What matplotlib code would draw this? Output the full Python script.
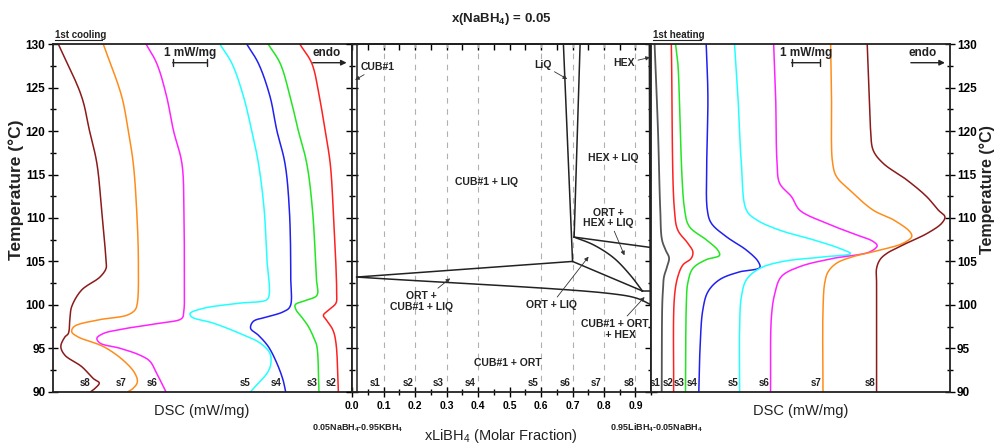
import matplotlib
matplotlib.use('Agg')
import matplotlib.pyplot as plt
from matplotlib.ticker import MultipleLocator
import matplotlib.transforms as mtransforms
import numpy as np

plt.rcParams['font.family'] = ['Liberation Sans', 'DejaVu Sans']
plt.rcParams['mathtext.fontset'] = 'custom'
plt.rcParams['mathtext.rm'] = 'Liberation Sans'
plt.rcParams['mathtext.bf'] = 'Liberation Sans:bold'
plt.rcParams['mathtext.default'] = 'regular'

# ---------------- data ----------------
samples = ['s1', 's2', 's3', 's4', 's5', 's6', 's7', 's8']
sample_x = [0.1, 0.2, 0.3, 0.4, 0.6, 0.7, 0.8, 0.9]
colors = {'s1': '#555555', 's2': '#ff2020', 's3': '#22e622', 's4': '#2020f0',
          's5': '#22ffff', 's6': '#ff22ff', 's7': '#ff8c1a', 's8': '#8b1a1a'}

# 1st cooling DSC (temperature in degC, DSC offset in mW/mg)
cool_s2_T = [130, 127.8, 124, 120.1, 116.3, 110.9, 101.3, 100.2, 99.4, 98.8, 98.3, 97.1, 95.6, 90]
cool_s2_dsc = [7.26, 7.61, 7.83, 8.00, 8.15, 8.24, 8.34, 8.32, 8.10, 7.95, 8.03, 8.23, 8.32, 8.39]
cool_s3_T = [130, 127.8, 124, 120.1, 116.3, 110.9, 103.2, 101.1, 100.55, 100, 99.4, 98.6, 97.5, 96, 95.2, 90]
cool_s3_dsc = [6.33, 6.68, 6.97, 7.21, 7.46, 7.63, 7.74, 7.76, 7.46, 7.12, 7.15, 7.31, 7.51, 7.69, 7.76, 7.82]
cool_s4_T = [130, 127.8, 124, 120.1, 116.3, 110.9, 103.2, 99.8, 99.2, 98.6, 98.1, 97.3, 96.5, 95.2, 93.3, 91.4, 90]
cool_s4_dsc = [5.70, 6.04, 6.38, 6.58, 6.82, 6.95, 6.99, 6.97, 6.77, 6.29, 5.89, 5.81, 6.04, 6.33, 6.58, 6.76, 6.84]
cool_s5_T = [130, 127.8, 124, 120.1, 116.3, 110.9, 105.2, 101.3, 100.6, 100.2, 99.6, 99.0, 98.6, 97.9, 96.7,
             95.6, 94.4, 93.1, 92.1, 91, 90]
cool_s5_dsc = [4.91, 5.26, 5.60, 5.84, 6.04, 6.21, 6.29, 6.36, 6.29, 5.50, 4.42, 4.03, 4.08, 4.71, 5.50,
               6.09, 6.38, 6.40, 6.29, 6.04, 5.81]
cool_s6_T = [130, 127.8, 124, 120.1, 116.3, 110.9, 103.2, 99.4, 98.45, 97.9, 97.3, 96.7, 96.15, 95.6, 95,
             94.2, 93.5, 92.1, 90]
cool_s6_dsc = [2.74, 3.05, 3.34, 3.54, 3.79, 3.85, 3.86, 3.85, 3.79, 3.15, 2.17, 1.48, 1.29, 1.38, 1.97,
               2.56, 2.85, 3.05, 3.32]
cool_s7_T = [130, 124, 120.1, 116.3, 110.9, 105.2, 100.2, 99.4, 98.8, 98.3, 97.5, 96.9, 96.3, 95.2, 93.6,
             92.1, 91.1, 90.4, 90]
cool_s7_dsc = [1.48, 2.02, 2.21, 2.36, 2.46, 2.51, 2.48, 2.41, 2.17, 1.38, 0.62, 0.55, 0.74, 1.48, 2.07,
               2.41, 2.48, 2.36, 2.21]
cool_s8_T = [130, 124, 120.1, 116.3, 110.9, 105, 104.2, 103.2, 101.7, 99.8, 98.6, 96.7, 96.3, 95.2, 94.2,
             92.9, 91.5, 91, 90.4, 90]
cool_s8_dsc = [0.16, 0.84, 1.07, 1.29, 1.43, 1.56, 1.56, 1.38, 0.84, 0.55, 0.50, 0.45, 0.35, 0.23, 0.35,
               0.84, 1.19, 1.36, 1.24, 1.11]

# 1st heating DSC
heat_s1_T = [130, 120, 110.9, 107.5, 106.3, 105.4, 104.4, 103.2, 102, 100, 90]
heat_s1_dsc = [0.12, 0.24, 0.32, 0.38, 0.51, 0.63, 0.56, 0.45, 0.42, 0.39, 0.37]
heat_s2_T = [130, 110.9, 108.6, 107.1, 106.1, 105.35, 104.6, 103.25, 100.9, 90]
heat_s2_dsc = [0.71, 0.82, 0.94, 1.29, 1.47, 1.41, 1.12, 0.94, 0.82, 0.79]
heat_s3_T = [130, 127.8, 110.9, 109, 107.5, 106.3, 105.7, 105.2, 104.2, 102.5, 100.2, 90]
heat_s3_dsc = [0.86, 0.94, 1.18, 1.35, 1.94, 2.35, 2.41, 1.94, 1.47, 1.29, 1.24, 1.21]
heat_s4_T = [130, 124, 116.3, 110.9, 109.4, 107.85, 106.3, 105, 104.3, 103.8, 102.9, 101.5, 99.4, 95.6, 90]
heat_s4_dsc = [1.94, 2.00, 1.96, 1.98, 2.12, 2.65, 3.36, 3.77, 3.83, 3.12, 2.41, 2.00, 1.82, 1.73, 1.68]
heat_s5_T = [130, 124, 116.3, 110.9, 109.8, 108.6, 107.5, 106.5, 105.9, 105.55, 105, 104.2, 102.9, 100.9, 97.5, 90]
heat_s5_dsc = [2.94, 3.06, 3.18, 3.36, 3.71, 4.53, 5.71, 6.65, 7.03, 6.18, 4.65, 3.83, 3.36, 3.18, 3.12, 3.12]
heat_s6_T = [130, 124, 116.3, 114, 112.45, 110.9, 109.4, 108.2, 107.3, 106.8, 106.1, 105.35, 104.4, 103.25,
             101.3, 98.6, 90]
heat_s6_dsc = [4.32, 4.39, 4.44, 4.53, 4.95, 5.24, 6.18, 7.12, 7.83, 7.97, 7.71, 6.42, 5.24, 4.59,
               4.36, 4.24, 4.21]
heat_s7_T = [130, 124, 116.3, 114.75, 113.2, 110.9, 109.8, 108.4, 107.85, 107.1, 106.3, 105.55, 104.8, 103.8,
             102.5, 99.4, 90]
heat_s7_dsc = [6.33, 6.36, 6.40, 6.54, 7.01, 7.83, 8.54, 9.13, 9.19, 8.89, 8.07, 7.12, 6.54, 6.24,
               6.12, 6.06, 6.06]
heat_s8_T = [130, 124, 120.1, 117.8, 116.3, 114.4, 112.45, 110.9, 110.15, 109.4, 108.2, 107.1, 105.9, 105.2,
             104.2, 102.5, 90]
heat_s8_dsc = [7.62, 7.69, 7.74, 7.83, 8.18, 9.01, 9.72, 10.13, 10.36, 10.25, 9.72, 9.01, 8.30, 8.07,
               7.95, 7.95, 7.95]

# Phase diagram boundaries (x LiBH4, T degC)
cub_solvus_x = [0.014, 0.014]
cub_solvus_T = [90, 130]
liq_left_x = [0.671, 0.700]
liq_left_T = [130, 105.0]
liq_right_x = [0.724, 0.705]
liq_right_T = [130, 107.8]
ohl_top_x = [0.705, 0.95]
ohl_top_T = [107.8, 106.6]
ohl_curve_x = [0.705, 0.767, 0.831, 0.884, 0.922]
ohl_curve_T = [107.8, 106.9, 105.4, 103.4, 101.6]
ort_liq_low_x = [0.700, 0.922]
ort_liq_low_T = [105.0, 101.6]
eut_upper_x = [0.014, 0.700]
eut_upper_T = [103.2, 105.0]
eut_lower_x = [0.014, 0.82, 0.905, 0.95]
eut_lower_T = [103.2, 101.3, 100.75, 100.0]
eutectoid_x = [0.922, 0.95]
eutectoid_T = [101.6, 101.6]
hex_solvus_x = [0.944, 0.947]
hex_solvus_T = [130, 100.0]

cool_T = {'s2': cool_s2_T, 's3': cool_s3_T, 's4': cool_s4_T, 's5': cool_s5_T,
          's6': cool_s6_T, 's7': cool_s7_T, 's8': cool_s8_T}
cool_dsc = {'s2': cool_s2_dsc, 's3': cool_s3_dsc, 's4': cool_s4_dsc, 's5': cool_s5_dsc,
            's6': cool_s6_dsc, 's7': cool_s7_dsc, 's8': cool_s8_dsc}
heat_T = {'s1': heat_s1_T, 's2': heat_s2_T, 's3': heat_s3_T, 's4': heat_s4_T, 's5': heat_s5_T,
          's6': heat_s6_T, 's7': heat_s7_T, 's8': heat_s8_T}
heat_dsc = {'s1': heat_s1_dsc, 's2': heat_s2_dsc, 's3': heat_s3_dsc, 's4': heat_s4_dsc,
            's5': heat_s5_dsc, 's6': heat_s6_dsc, 's7': heat_s7_dsc, 's8': heat_s8_dsc}


def smooth_path(xs, ys, sx, sy, n=12):
    """Centripetal Catmull-Rom rendering through the read points (display smoothing only)."""
    P = np.column_stack([np.asarray(xs, float) / sx, np.asarray(ys, float) / sy])
    P = np.vstack([2 * P[0] - P[1], P, 2 * P[-1] - P[-2]])
    out = []
    for i in range(1, len(P) - 2):
        p0, p1, p2, p3 = P[i - 1], P[i], P[i + 1], P[i + 2]
        t0 = 0.0
        t1 = t0 + max(np.linalg.norm(p1 - p0), 1e-6) ** 0.5
        t2 = t1 + max(np.linalg.norm(p2 - p1), 1e-6) ** 0.5
        t3 = t2 + max(np.linalg.norm(p3 - p2), 1e-6) ** 0.5
        for t in np.linspace(t1, t2, n, endpoint=False):
            a1 = (t1 - t) / (t1 - t0) * p0 + (t - t0) / (t1 - t0) * p1
            a2 = (t2 - t) / (t2 - t1) * p1 + (t - t1) / (t2 - t1) * p2
            a3 = (t3 - t) / (t3 - t2) * p2 + (t - t2) / (t3 - t2) * p3
            b1 = (t2 - t) / (t2 - t0) * a1 + (t - t0) / (t2 - t0) * a2
            b2 = (t3 - t) / (t3 - t1) * a2 + (t - t1) / (t3 - t1) * a3
            out.append((t2 - t) / (t2 - t1) * b1 + (t - t1) / (t2 - t1) * b2)
    out.append(P[-2])
    out = np.array(out)
    return out[:, 0] * sx, out[:, 1] * sy


# ---------------- layout ----------------
W, H = 994, 444
fig = plt.figure(figsize=(W / 100, H / 100), dpi=100)
top_px, bot_px = 44.3, 391.7


def rect(x0, x1):
    return [x0 / W, 1 - bot_px / H, (x1 - x0) / W, (bot_px - top_px) / H]


axL = fig.add_axes(rect(53, 352.3))
axM = fig.add_axes(rect(352.3, 651.2))
axR = fig.add_axes(rect(651.2, 950))

LW_SPINE = 1.3
for ax in (axL, axM, axR):
    ax.set_ylim(90, 130)
    for s in ax.spines.values():
        s.set_linewidth(LW_SPINE)
        s.set_color('#222222')
    ax.yaxis.set_major_locator(MultipleLocator(5))
    ax.yaxis.set_minor_locator(MultipleLocator(2.5))

# ---- left panel (cooling)
XL = 8.80
axL.set_xlim(0, XL)
axL.set_xticks([])
axL.tick_params(axis='y', which='major', direction='inout', length=7, width=1, left=True, right=False,
                labelsize=8.5, pad=2)
axL.tick_params(axis='y', which='minor', direction='inout', length=4, width=1, left=True, right=False)
for lab in axL.get_yticklabels():
    lab.set_fontweight('bold')
for s in ['s2', 's3', 's4', 's5', 's6', 's7', 's8']:
    xs, ys = smooth_path(cool_dsc[s], cool_T[s], XL / 299.0, 40 / 347.4)
    axL.plot(xs, ys, color=colors[s], lw=1.1)
cool_label_x = {'s8': 0.94, 's7': 1.99, 's6': 2.92, 's5': 5.65, 's4': 6.56, 's3': 7.61, 's2': 8.18}
for s, xv in cool_label_x.items():
    axL.text(xv, 91.0, s, fontsize=7, fontweight='bold', ha='center', va='center', color='#222222')

# ---- right panel (heating)
XR = 10.54
axR.set_xlim(0, XR)
axR.set_xticks([])
axR.yaxis.tick_right()
axR.tick_params(axis='y', which='major', direction='inout', length=7, width=1, left=False, right=True,
                labelsize=8.5, pad=1.5)
axR.tick_params(axis='y', which='minor', direction='inout', length=4, width=1, left=False, right=True)
for lab in axR.get_yticklabels():
    lab.set_fontweight('bold')
for s in samples:
    xs, ys = smooth_path(heat_dsc[s], heat_T[s], XR / 298.8, 40 / 347.4)
    axR.plot(xs, ys, color=colors[s], lw=1.3 if s == 's1' else 1.1)
heat_label_x = {'s1': 0.15, 's2': 0.59, 's3': 1.0, 's4': 1.45, 's5': 2.88, 's6': 3.97, 's7': 5.83, 's8': 7.72}
for s, xv in heat_label_x.items():
    axR.text(xv, 91.0, s, fontsize=7, fontweight='bold', ha='center', va='center', color='#222222')

# ---- middle panel (phase diagram)
axM.set_xlim(0, 0.95)
axM.xaxis.set_major_locator(MultipleLocator(0.1))
axM.xaxis.set_minor_locator(MultipleLocator(0.05))
axM.tick_params(axis='x', which='major', direction='inout', length=7, width=1, top=False, bottom=True,
                labelsize=7.5, pad=3)
axM.tick_params(axis='x', which='minor', direction='inout', length=4, width=1, top=False, bottom=True)
axM.tick_params(axis='y', which='major', direction='inout', length=8, width=1, left=True, right=True,
                labelleft=False)
axM.tick_params(axis='y', which='minor', direction='inout', length=5, width=1, left=True, right=True)
axM.set_xticks([i / 10 for i in range(10)])
axM.set_xticklabels(['%.1f' % (i / 10) for i in range(10)], fontweight='bold')
secx = axM.secondary_xaxis('top')
secx.set_xticks([i * 0.05 for i in range(20)])
secx.tick_params(direction='in', length=4, width=1, labeltop=False)
secx.spines['top'].set_linewidth(LW_SPINE)

for xs in sample_x:
    axM.axvline(xs, color='#b0b0b0', lw=0.8, ls=(0, (5, 5)), zorder=1)

PL = dict(color='#222222', lw=1.1, zorder=3)
axM.plot(cub_solvus_x, cub_solvus_T, **PL)
axM.plot(liq_left_x, liq_left_T, **PL)
axM.plot(liq_right_x, liq_right_T, **PL)
axM.plot(ohl_top_x, ohl_top_T, **PL)
cx, cy = smooth_path(ohl_curve_x, ohl_curve_T, 0.95 / 298.9, 40 / 347.4)
axM.plot(cx, cy, **PL)
axM.plot(ort_liq_low_x, ort_liq_low_T, **PL)
axM.plot(eut_upper_x, eut_upper_T, **PL)
ex, ey = smooth_path(eut_lower_x, eut_lower_T, 0.95 / 298.9, 40 / 347.4)
axM.plot(ex, ey, **PL)
axM.plot(eutectoid_x, eutectoid_T, **PL)
axM.plot(hex_solvus_x, hex_solvus_T, **PL)

TF = dict(fontsize=7.5, fontweight='bold', color='#222222', ha='center', va='center')
AP = dict(arrowstyle='-|>', color='#333333', lw=0.6, mutation_scale=6, shrinkA=0, shrinkB=0)
axM.annotate('CUB#1', xy=(0.009, 125.9), xytext=(0.08, 127.4), arrowprops=AP, **TF)
axM.annotate('LiQ', xy=(0.683, 126.0), xytext=(0.606, 127.6), arrowprops=AP, **TF)
axM.annotate('HEX', xy=(0.946, 128.5), xytext=(0.865, 127.8), arrowprops=AP, **TF)
axM.text(0.83, 116.9, 'HEX + LIQ', **TF)
axM.text(0.425, 114.2, 'CUB#1 + LIQ', **TF)
axM.annotate('ORT +\nHEX + LIQ', xy=(0.865, 105.7), xytext=(0.815, 110.0), arrowprops=AP,
             linespacing=1.1, **TF)
axM.annotate('ORT + LIQ', xy=(0.751, 105.55), xytext=(0.632, 100.0), arrowprops=AP, **TF)
axM.annotate('ORT +\nCUB#1 + LIQ', xy=(0.311, 103.05), xytext=(0.22, 100.4), arrowprops=AP,
             linespacing=1.1, **TF)
axM.annotate('CUB#1 + ORT\n    + HEX', xy=(0.929, 100.9), xytext=(0.835, 97.2), arrowprops=AP,
             linespacing=1.1, **TF)
axM.text(0.494, 93.3, 'CUB#1 + ORT', **TF)
for s, xv in zip(samples, [0.072, 0.176, 0.274, 0.375, 0.576, 0.675, 0.776, 0.879]):
    axM.text(xv, 91.0, s, fontsize=7, fontweight='bold', ha='center', va='center', color='#222222')


# ---- scale bars, endo arrows, headers
def decorate(ax, bar_x0, endo_x0, endo_x1, endo_tx, header):
    trans = mtransforms.blended_transform_factory(ax.transData, ax.transAxes)
    ax.annotate('', xy=(bar_x0, 0.947), xytext=(bar_x0 + 1.0, 0.947), xycoords=trans, textcoords=trans,
                arrowprops=dict(arrowstyle='|-|', lw=1.0, color='#222222', mutation_scale=2.5,
                                shrinkA=0, shrinkB=0))
    ax.text(bar_x0 + 0.5, 0.975, '1 mW/mg', transform=trans, fontsize=8.5, fontweight='bold',
            ha='center', va='center', color='#222222')
    ax.annotate('', xy=(endo_x1, 0.947), xytext=(endo_x0, 0.947), xycoords='axes fraction',
                arrowprops=dict(arrowstyle='-|>', lw=1.0, color='#222222', mutation_scale=8,
                                shrinkA=0, shrinkB=0))
    ax.text(endo_tx, 0.975, 'endo', transform=ax.transAxes, fontsize=8.5, fontweight='bold',
            ha='center', va='center', color='#222222')
    ax.text(0.007, 1.028, header, transform=ax.transAxes, fontsize=7, fontweight='bold',
            ha='left', va='center', color='#222222')
    ax.plot([0.007, 0.165], [1.012, 1.012], transform=ax.transAxes, color='#222222', lw=0.8,
            clip_on=False)


decorate(axL, 3.52, 0.868, 0.981, 0.915, '1st cooling')
decorate(axR, 4.95, 0.869, 0.983, 0.91, '1st heating')


# ---- figure level labels
def ftext(px, py, s, **kw):
    fig.text(px / W, 1 - py / H, s, ha='center', va='center', color='#222222', **kw)


ftext(501, 19, r'x(NaBH$_4$) = 0.05', fontsize=9.5, fontweight='bold')
ftext(16, 190, 'Temperature (°C)', fontsize=12.5, fontweight='bold', rotation=90)
ftext(987, 190, 'Temperature (°C)', fontsize=11.5, fontweight='bold', rotation=90)
ftext(202, 411, 'DSC (mW/mg)', fontsize=10.5)
ftext(801, 411, 'DSC (mW/mg)', fontsize=10.5)
ftext(501, 436, r'xLiBH$_4$ (Molar Fraction)', fontsize=10.5)
ftext(358, 428, r'0.05NaBH$_4$-0.95KBH$_4$', fontsize=6.5, fontweight='bold')
ftext(657, 428, r'0.95LiBH$_4$-0.05NaBH$_4$', fontsize=6.5, fontweight='bold')

fig.savefig('out.png', dpi=100)
